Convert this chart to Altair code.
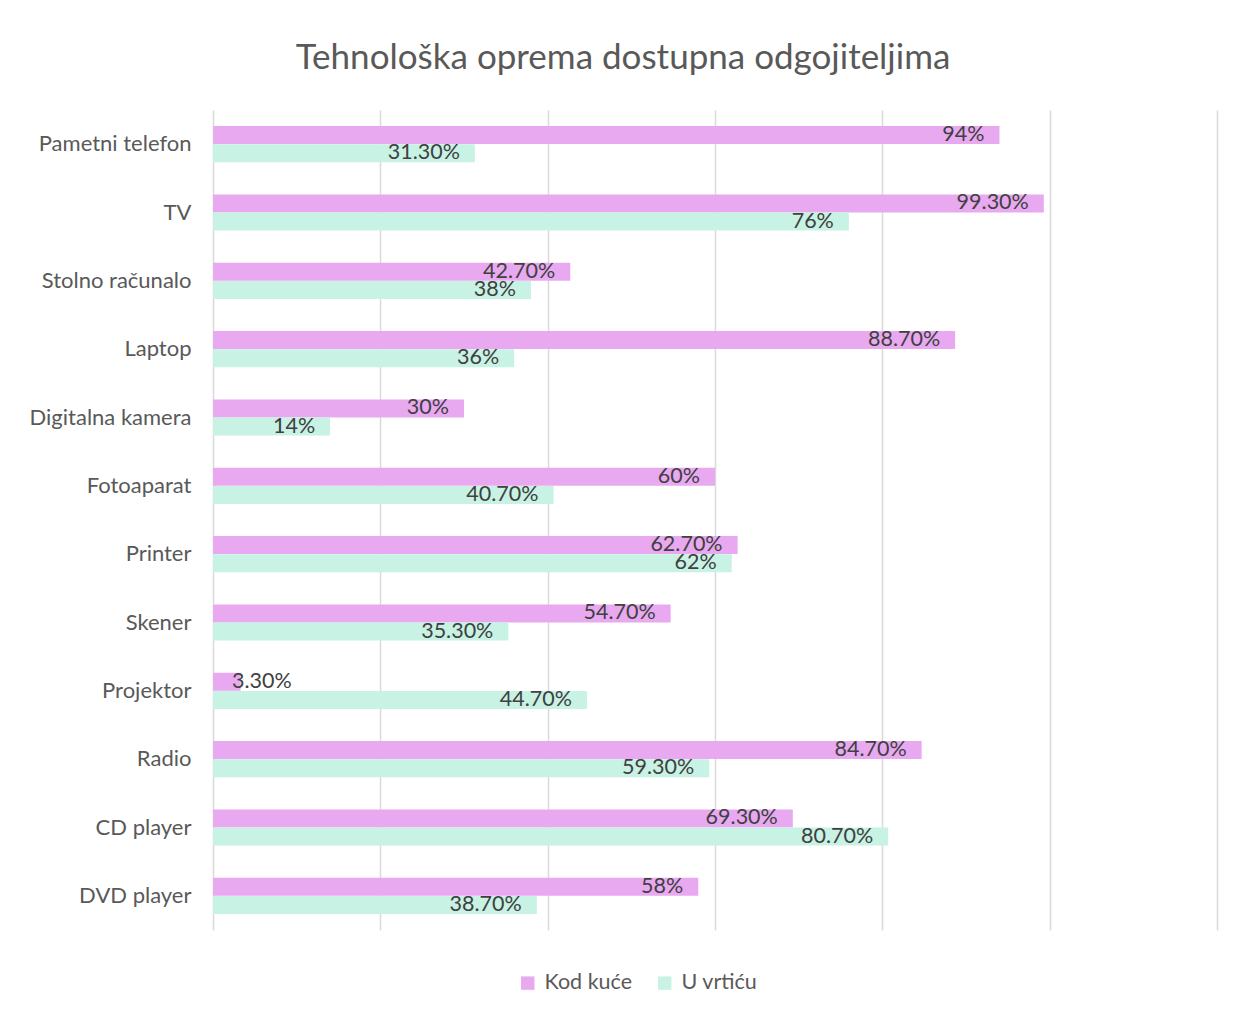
import altair as alt
import pandas as pd

categories = ["Pametni telefon", "TV", "Stolno računalo", "Laptop", "Digitalna kamera",
              "Fotoaparat", "Printer", "Skener", "Projektor", "Radio", "CD player", "DVD player"]
kod_kuce = [94, 99.3, 42.7, 88.7, 30, 60, 62.7, 54.7, 3.3, 84.7, 69.3, 58]
u_vrticu = [31.3, 76, 38, 36, 14, 40.7, 62, 35.3, 44.7, 59.3, 80.7, 38.7]
series = ["Kod kuće", "U vrtiću"]
colors = ["#E8A9F0", "#C7F2E4"]


def fmt(v):
    return f"{int(v)}%" if float(v).is_integer() else f"{v:.2f}%"


rows = []
for c, a, b in zip(categories, kod_kuce, u_vrticu):
    rows.append({"cat": c, "series": series[0], "value": a, "label": fmt(a)})
    rows.append({"cat": c, "series": series[1], "value": b, "label": fmt(b)})
df = pd.DataFrame(rows)

FONT = "Lato"

y_enc = alt.Y("cat:N", sort=categories, title=None,
              scale=alt.Scale(paddingInner=0.47, paddingOuter=0.235),
              axis=alt.Axis(labelFontSize=22, labelColor="#595959", labelFont=FONT,
                            labelPadding=22, ticks=False, domain=False, grid=False,
                            labelLimit=300))
yoff = alt.YOffset("series:N", sort=series)
x_scale = alt.Scale(domain=[0, 120], nice=False)

bars = alt.Chart(df).mark_bar(size=18).encode(
    x=alt.X("value:Q", scale=x_scale, title=None,
            axis=alt.Axis(values=[0, 20, 40, 60, 80, 100, 120], labels=False, ticks=False,
                          domain=False, grid=True, gridColor="#D9D9D9", gridWidth=1.5)),
    y=y_enc,
    yOffset=yoff,
    color=alt.Color("series:N", scale=alt.Scale(domain=series, range=colors),
                    legend=alt.Legend(title=None, orient="none", direction="horizontal",
                                      legendX=304, legendY=862,
                                      labelFontSize=21.5, labelColor="#595959", labelFont=FONT,
                                      symbolType="square", symbolSize=180, symbolStrokeWidth=0,
                                      symbolOpacity=1, columnPadding=22, labelOffset=6)),
)

text = alt.Chart(df).transform_calculate(
    lx="max(datum.value, 11.2)"
).mark_text(align="right", baseline="middle", dx=-15, fontSize=21.5, color="#404040",
            font=FONT).encode(
    x=alt.X("lx:Q", scale=x_scale),
    y=alt.Y("cat:N", sort=categories),
    yOffset=yoff,
    text="label:N",
)

chart = alt.layer(bars, text).properties(
    width=1004, height=820,
    background="white",
    title=alt.TitleParams("Tehnološka oprema dostupna odgojiteljima", fontSize=35,
                          font=FONT, fontWeight="normal", color="#595959",
                          anchor="middle", frame="bounds", offset=34),
    padding={"left": 21, "top": 33, "right": 10, "bottom": 10},
).configure_view(strokeWidth=0, stroke=None)

chart.save("out.html", embed_options={"renderer": "svg", "actions": False})
